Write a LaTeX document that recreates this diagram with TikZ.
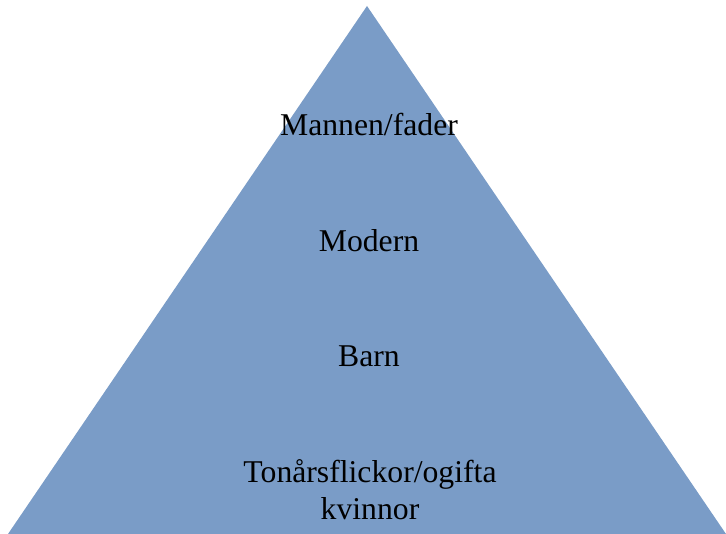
\documentclass[tikz,border=0pt]{standalone}
\usepackage{fontspec}
\setmainfont{Liberation Serif}
\definecolor{pyrblue}{RGB}{122,156,199}
\begin{document}
\begin{tikzpicture}[x=1pt,y=1pt,
  lvl/.style={font=\fontsize{31.7}{37}\selectfont, text=black, align=center, anchor=base, inner sep=0pt}]
\useasboundingbox (0,0) rectangle (726,534);
\fill[pyrblue] (367,528) -- (726,0) -- (8,0) -- cycle;
\node[lvl] (l1) at (369,398) {Mannen/fader};
\node[lvl] (l2) at (369,282) {Modern};
\node[lvl] (l3) at (369,167) {Barn};
\node[lvl] (l4) at (370,14) {Tonårsflickor/ogifta\\kvinnor};
\end{tikzpicture}
\end{document}
